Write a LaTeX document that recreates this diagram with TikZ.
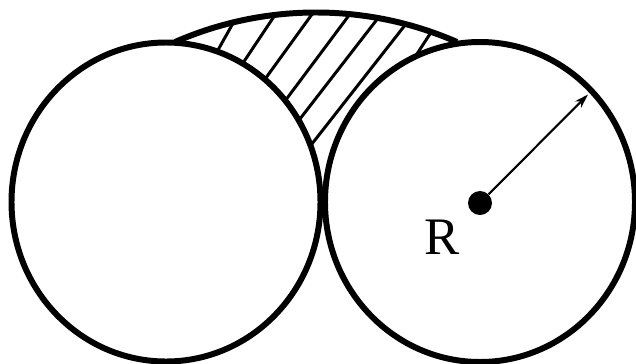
\documentclass[tikz,border=0pt]{standalone}
\usepackage{fontspec}
\setmainfont{Liberation Serif}
\usetikzlibrary{arrows.meta}

\begin{document}
\begin{tikzpicture}[
  rim/.style={line width=3.4pt},
  hatch/.style={line width=1.7pt, shorten <=-6pt, shorten >=-6pt},
]
  % canvas
  \useasboundingbox (0,0) rectangle (12.72,7.26);

  % radius of the top arc
  \def\T{7.034}

  % hatch lines, clipped under the top arc
  \begin{scope}
    \clip (3.50,6.42) arc[start angle=113.64, end angle=66.36, radius=\T] -- (6.45,3.3) -- cycle;
    \foreach \xa/\ya/\xb/\yb in {4.64/6.76/4.36/6.26, 5.46/6.90/4.90/6.06,
        6.20/6.92/5.36/5.76, 6.94/6.90/5.76/5.32, 7.50/6.82/6.06/4.96,
        8.04/6.68/6.30/4.46, 8.56/6.52/8.30/6.12}
      \draw[hatch] (\xa,\ya) -- (\xb,\yb);
  \end{scope}

  % left and right wheel
  \filldraw[rim, fill=white] (3.32,3.22) ellipse[x radius=3.09, y radius=3.19];
  \filldraw[rim, fill=white] (9.60,3.22) ellipse[x radius=3.10, y radius=3.20];

  % top arc
  \draw[rim] (3.50,6.42) arc[start angle=113.64, end angle=66.36, radius=\T];

  % centre and radius
  \node[circle, fill, inner sep=0pt, minimum size=0.48cm] (ctr) at (9.60,3.20) {};
  \coordinate (tip) at (11.76,5.37);
  \draw[line width=1.2pt, -{Stealth[length=8pt, width=5pt]}] (ctr) -- (tip);
  \node[font=\fontsize{30}{34}\selectfont] (lbl) at (8.85,2.52) {R};
\end{tikzpicture}
\end{document}
